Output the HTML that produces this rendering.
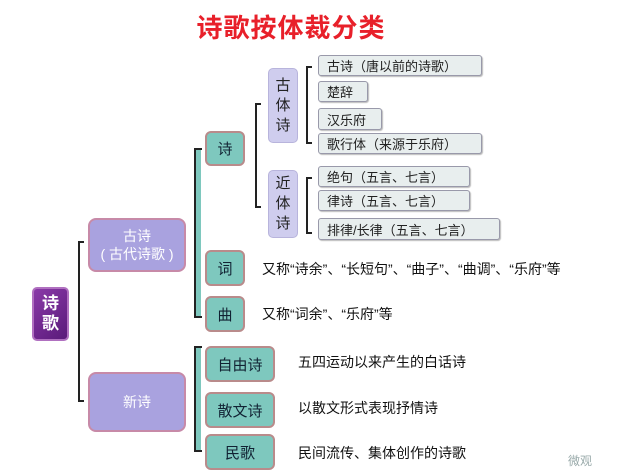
<!DOCTYPE html>
<html><head><meta charset="utf-8"><style>
*{margin:0;padding:0;box-sizing:border-box}
body{width:618px;height:473px;background:#fff;position:relative;overflow:hidden;font-family:"Liberation Sans","Noto Sans CJK SC","WenQuanYi Zen Hei",sans-serif}
.a{position:absolute}
.t{position:absolute;left:0;width:618px;top:8px;text-align:center;font-size:26px;font-weight:bold;color:#e8202a;letter-spacing:1px;padding-left:0}
.box{position:absolute;display:flex;align-items:center;justify-content:center;text-align:center;border-radius:5px}
.root{background:linear-gradient(135deg,#8a3aa8,#5a1a7a);border:2px solid #b070c0;color:#fff;font-size:17px;font-weight:bold;line-height:20px}
.pur{background:#a9a2df;border:2px solid #c78aa8;color:#fff;font-size:14px;line-height:18px;border-radius:8px}
.teal{background:#7ec8be;border:2px solid #b98b8b;color:#123;font-size:15px;border-radius:6px}
.lav{background:#cfcdee;border:1px solid #b8b4dc;color:#222;font-size:15px;line-height:20px}
.gr{background:#e8eeee;border:1px solid #99a;color:#222;font-size:13px;justify-content:flex-start;padding-left:8px;border-radius:3px;box-shadow:1px 1px 1px #bbb}
.d{position:absolute;font-size:14px;color:#111;white-space:nowrap}
.v{position:absolute;border-left:2px solid #222}
.h{position:absolute;border-top:2px solid #222;width:6px}
</style></head><body>
<div class="t" style="left:-18px">诗歌按体裁分类</div>

<div class="box root" style="left:32px;top:287px;width:37px;height:54px">诗<br>歌</div>
<div class="v" style="left:78px;top:241px;height:161px"></div>
<div class="h" style="left:78px;top:241px"></div>
<div class="h" style="left:78px;top:400px"></div>

<div class="box pur" style="left:88px;top:218px;width:98px;height:54px">古诗<br>( 古代诗歌 )</div>
<div class="box pur" style="left:88px;top:372px;width:98px;height:60px">新诗</div>

<div class="a" style="left:196px;top:148px;width:5px;height:170px;background:#7ec8be"></div>
<div class="v" style="left:194px;top:148px;height:170px"></div>
<div class="h" style="left:194px;top:148px;width:8px"></div>
<div class="h" style="left:194px;top:316px;width:8px"></div>
<div class="a" style="left:196px;top:346px;width:5px;height:106px;background:#7ec8be"></div>
<div class="v" style="left:194px;top:346px;height:106px"></div>
<div class="h" style="left:194px;top:346px;width:8px"></div>
<div class="h" style="left:194px;top:450px;width:8px"></div>

<div class="box teal" style="left:205px;top:131px;width:40px;height:35px">诗</div>
<div class="box teal" style="left:205px;top:250px;width:40px;height:36px">词</div>
<div class="box teal" style="left:205px;top:296px;width:40px;height:36px">曲</div>
<div class="d" style="left:262px;top:259px">又称“诗余”、“长短句”、“曲子”、“曲调”、“乐府”等</div>
<div class="d" style="left:262px;top:304px">又称“词余”、“乐府”等</div>

<div class="box teal" style="left:205px;top:346px;width:70px;height:36px">自由诗</div>
<div class="box teal" style="left:205px;top:392px;width:70px;height:36px">散文诗</div>
<div class="box teal" style="left:205px;top:434px;width:70px;height:36px">民歌</div>
<div class="d" style="left:298px;top:352px">五四运动以来产生的白话诗</div>
<div class="d" style="left:298px;top:398px">以散文形式表现抒情诗</div>
<div class="d" style="left:298px;top:443px">民间流传、集体创作的诗歌</div>

<div class="v" style="left:255px;top:103px;height:105px"></div>
<div class="h" style="left:255px;top:103px"></div>
<div class="h" style="left:255px;top:206px"></div>
<div class="box lav" style="left:268px;top:68px;width:30px;height:75px">古<br>体<br>诗</div>
<div class="box lav" style="left:268px;top:170px;width:30px;height:68px">近<br>体<br>诗</div>

<div class="v" style="left:306px;top:66px;height:78px"></div>
<div class="h" style="left:306px;top:66px"></div>
<div class="h" style="left:306px;top:142px"></div>
<div class="v" style="left:306px;top:177px;height:57px"></div>
<div class="h" style="left:306px;top:177px"></div>
<div class="h" style="left:306px;top:232px"></div>

<div class="box gr" style="left:318px;top:55px;width:164px;height:21px">古诗（唐以前的诗歌）</div>
<div class="box gr" style="left:318px;top:81px;width:50px;height:21px">楚辞</div>
<div class="box gr" style="left:318px;top:108px;width:64px;height:22px">汉乐府</div>
<div class="box gr" style="left:318px;top:133px;width:164px;height:21px">歌行体（来源于乐府）</div>
<div class="box gr" style="left:318px;top:166px;width:152px;height:21px">绝句（五言、七言）</div>
<div class="box gr" style="left:318px;top:190px;width:152px;height:21px">律诗（五言、七言）</div>
<div class="box gr" style="left:318px;top:218px;width:182px;height:22px">排律/长律（五言、七言）</div>

<div class="d" style="left:568px;top:452px;font-size:12px;color:#9aa">微观</div>
</body></html>
